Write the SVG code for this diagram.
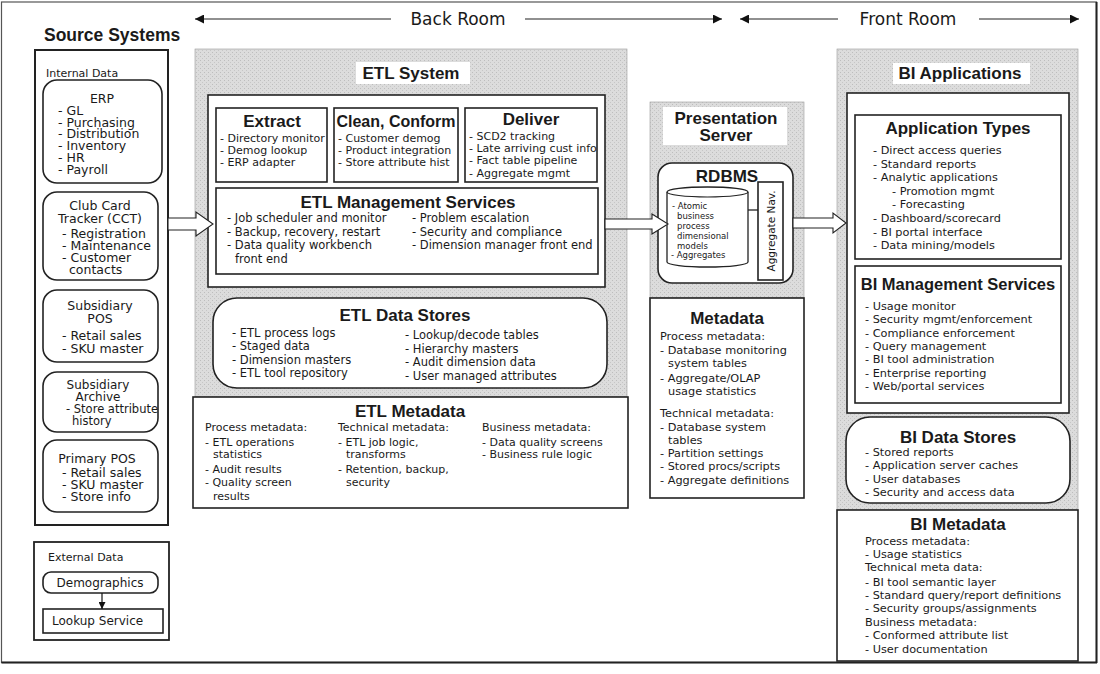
<svg xmlns="http://www.w3.org/2000/svg" width="1100" height="674" viewBox="0 0 1100 674">
<defs>
<pattern id="ht" width="4" height="4" patternUnits="userSpaceOnUse">
<rect width="4" height="4" fill="#dcdcdc"/>
<rect x="0" y="0" width="1" height="1" fill="#bdbdbd"/>
<rect x="2" y="2" width="1" height="1" fill="#c6c6c6"/>
</pattern>
<marker id="ah" viewBox="0 0 10 10" refX="10" refY="5" markerWidth="11" markerHeight="9" markerUnits="userSpaceOnUse" orient="auto-start-reverse">
<path d="M0,0 L10,5 L0,10 Z" fill="#111"/>
</marker>
<marker id="ahs" viewBox="0 0 10 10" refX="10" refY="5" markerWidth="8" markerHeight="7" markerUnits="userSpaceOnUse" orient="auto">
<path d="M0,0 L10,5 L0,10 Z" fill="#111"/>
</marker>
</defs>
<style>
text{font-family:"DejaVu Sans","Liberation Sans",sans-serif;fill:#1a1a1a}
.b{fill:#fff;stroke:#222;stroke-width:1.6}
.g{fill:url(#ht);stroke:#999;stroke-width:0.6}
.w{fill:#fff;stroke:none}
.t15{font-family:"Liberation Sans",Arial,sans-serif;font-size:17px;font-weight:bold}
.t14{font-family:"Liberation Sans",Arial,sans-serif;font-size:17px;font-weight:bold}
.t16{font-family:"Liberation Sans",Arial,sans-serif;font-size:16px;font-weight:bold}
.hd{font-size:17px}
.s13{font-size:12.5px}
.s12{font-size:12px}
.s11{font-size:11px}
.s115{font-size:11.5px}
.s113{font-size:11.3px}
.s9{font-size:8.5px}
.s10{font-size:10.5px}
.m{text-anchor:middle}
.ar{fill:#fff;stroke:#222;stroke-width:1.1}
.ln{stroke:#222;stroke-width:1.2;fill:none}
</style>
<rect x="0" y="0" width="1100" height="674" fill="#fff"/>
<rect x="1.5" y="2" width="1095" height="660.5" fill="none" stroke="#555" stroke-width="1.2"/>
<line x1="1096.5" y1="2" x2="1096.5" y2="663" stroke="#222" stroke-width="2"/>
<line x1="1.5" y1="662.5" x2="1097" y2="662.5" stroke="#222" stroke-width="2"/>

<g id="header">
<line class="ln" x1="391" y1="19" x2="195" y2="19" marker-end="url(#ah)"/>
<text class="hd m" x="458" y="25">Back Room</text>
<line class="ln" x1="525" y1="19" x2="722" y2="19" marker-end="url(#ah)"/>
<line class="ln" x1="838" y1="19" x2="740" y2="19" marker-end="url(#ah)"/>
<text class="hd m" x="908" y="25">Front Room</text>
<line class="ln" x1="979" y1="19" x2="1079" y2="19" marker-end="url(#ah)"/>
<text class="t15" x="44" y="41" style="font-size:17.5px">Source Systems</text>
</g>

<g id="source-systems">
<rect x="35" y="50" width="133" height="475" fill="#fff" stroke="#222" stroke-width="2"/>
<text class="s11" x="46" y="77">Internal Data</text>
</g>
<g id="erp">
<rect class="b" x="43" y="80" width="119" height="103" rx="14"/>
<text class="s13 m" x="102" y="103">ERP</text>
<text class="s13" x="58" y="115">- GL</text>
<text class="s13" x="58" y="127">- Purchasing</text>
<text class="s13" x="58" y="138">- Distribution</text>
<text class="s13" x="58" y="150">- Inventory</text>
<text class="s13" x="58" y="162">- HR</text>
<text class="s13" x="58" y="174">- Payroll</text>
</g>
<g id="cct">
<rect class="b" x="43" y="192" width="115" height="88" rx="14"/>
<text class="s13 m" x="100" y="210">Club Card</text>
<text class="s13 m" x="100" y="223">Tracker (CCT)</text>
<text class="s13" x="62" y="238">- Registration</text>
<text class="s13" x="62" y="250">- Maintenance</text>
<text class="s13" x="62" y="262">- Customer</text>
<text class="s13" x="69" y="274">contacts</text>
</g>
<g id="subsidiary-pos">
<rect class="b" x="43" y="290" width="115" height="72" rx="14"/>
<text class="s13 m" x="100" y="310">Subsidiary</text>
<text class="s13 m" x="100" y="323">POS</text>
<text class="s13" x="62" y="340">- Retail sales</text>
<text class="s13" x="62" y="353">- SKU master</text>
</g>
<g id="subsidiary-archive">
<rect class="b" x="43" y="372" width="115" height="60" rx="14"/>
<text class="s12 m" x="98" y="389">Subsidiary</text>
<text class="s12 m" x="98" y="401">Archive</text>
<text class="s115" x="66" y="413">- Store attribute</text>
<text class="s115" x="72" y="425">history</text>
</g>
<g id="primary-pos">
<rect class="b" x="43" y="440" width="115" height="72" rx="14"/>
<text class="s13 m" x="97" y="463">Primary POS</text>
<text class="s13" x="62" y="477">- Retail sales</text>
<text class="s13" x="62" y="489">- SKU master</text>
<text class="s13" x="62" y="501">- Store info</text>
</g>
<g id="external-data">
<rect x="34" y="542" width="135" height="98" fill="#fff" stroke="#222" stroke-width="1.8"/>
<text class="s11" x="48" y="561">External Data</text>
</g>
<g id="demographics">
<rect class="b" x="43" y="572" width="115" height="21" rx="8"/>
<text class="s12 m" x="100" y="587">Demographics</text>
</g>
<g id="lookup-service">
<rect class="b" x="43" y="609" width="120" height="24"/>
<text class="s12" x="52" y="625">Lookup Service</text>
</g>

<g id="etl-system">
<rect class="g" x="195" y="49" width="432" height="348"/>
<rect class="w" x="356" y="62" width="114" height="22"/>
<text class="t15 m" x="411" y="79">ETL System</text>
<rect class="b" x="208" y="95" width="397" height="192"/>
</g>
<g id="extract">
<rect class="b" x="216" y="108" width="111" height="74"/>
<text class="t14 m" x="272" y="127">Extract</text>
<text class="s11" x="220" y="142">- Directory monitor</text>
<text class="s11" x="220" y="154">- Demog lookup</text>
<text class="s11" x="220" y="166">- ERP adapter</text>
</g>
<g id="clean-conform">
<rect class="b" x="334" y="108" width="124" height="74"/>
<text class="t16 m" x="396" y="127">Clean, Conform</text>
<text class="s11" x="338" y="142">- Customer demog</text>
<text class="s11" x="338" y="154">- Product integration</text>
<text class="s11" x="338" y="166">- Store attribute hist</text>
</g>
<g id="deliver">
<rect class="b" x="465" y="108" width="132" height="74"/>
<text class="t14 m" x="531" y="125">Deliver</text>
<text class="s11" x="469" y="140">- SCD2 tracking</text>
<text class="s11" x="469" y="152">- Late arriving cust info</text>
<text class="s11" x="469" y="164">- Fact table pipeline</text>
<text class="s11" x="469" y="177">- Aggregate mgmt</text>
</g>
<g id="etl-management-services">
<rect class="b" x="216" y="188" width="382" height="86"/>
<text class="t14 m" x="408" y="208">ETL Management Services</text>
<text class="s115" x="227" y="222">- Job scheduler and monitor</text>
<text class="s115" x="227" y="236">- Backup, recovery, restart</text>
<text class="s115" x="227" y="249">- Data quality workbench</text>
<text class="s115" x="235" y="263">front end</text>
<text class="s115" x="412" y="222">- Problem escalation</text>
<text class="s115" x="412" y="236">- Security and compliance</text>
<text class="s115" x="412" y="249">- Dimension manager front end</text>
</g>
<g id="etl-data-stores">
<rect class="b" x="213" y="298" width="394" height="90" rx="24"/>
<text class="t14 m" x="405" y="321">ETL Data Stores</text>
<text class="s115" x="232" y="337">- ETL process logs</text>
<text class="s115" x="232" y="350">- Staged data</text>
<text class="s115" x="232" y="364">- Dimension masters</text>
<text class="s115" x="232" y="377">- ETL tool repository</text>
<text class="s115" x="405" y="339">- Lookup/decode tables</text>
<text class="s115" x="405" y="353">- Hierarchy masters</text>
<text class="s115" x="405" y="366">- Audit dimension data</text>
<text class="s115" x="405" y="380">- User managed attributes</text>
</g>
<g id="etl-metadata">
<rect class="b" x="193" y="397" width="435" height="111"/>
<text class="t14 m" x="410" y="417">ETL Metadata</text>
<text class="s11" x="205" y="431">Process metadata:</text>
<text class="s11" x="205" y="446">- ETL operations</text>
<text class="s11" x="213" y="458">statistics</text>
<text class="s11" x="205" y="473">- Audit results</text>
<text class="s11" x="205" y="486">- Quality screen</text>
<text class="s11" x="213" y="500">results</text>
<text class="s11" x="338" y="431">Technical metadata:</text>
<text class="s11" x="338" y="446">- ETL job logic,</text>
<text class="s11" x="346" y="458">transforms</text>
<text class="s11" x="338" y="473">- Retention, backup,</text>
<text class="s11" x="346" y="486">security</text>
<text class="s11" x="482" y="431">Business metadata:</text>
<text class="s11" x="482" y="446">- Data quality screens</text>
<text class="s11" x="482" y="458">- Business rule logic</text>
</g>

<g id="presentation-server">
<rect class="g" x="650" y="102" width="154" height="196"/>
<rect class="w" x="663" y="107" width="124" height="38"/>
<text class="t15 m" x="726" y="124">Presentation</text>
<text class="t15 m" x="726" y="141">Server</text>
</g>
<g id="rdbms">
<rect class="b" x="658" y="163" width="135" height="120" rx="14"/>
<text class="t15 m" x="727" y="182">RDBMS</text>
<path d="M667,192 A40.5,5 0 0 1 748,192 L748,262 A40.5,5 0 0 1 667,262 Z" fill="#fff" stroke="#222" stroke-width="1.3"/>
<path d="M667,192 A40.5,5 0 0 0 748,192" fill="none" stroke="#222" stroke-width="1.1"/>
<text class="s9" x="672" y="209">- Atomic</text>
<text class="s9" x="677" y="219">business</text>
<text class="s9" x="677" y="229">process</text>
<text class="s9" x="677" y="239">dimensional</text>
<text class="s9" x="677" y="249">models</text>
<text class="s9" x="671" y="258">- Aggregates</text>
<line x1="748" y1="210" x2="758" y2="210" stroke="#222" stroke-width="1.3"/>
</g>
<g id="aggregate-nav">
<rect class="b" x="758" y="182" width="25" height="98"/>
<text class="s10 m" transform="translate(774.5,231) rotate(-90)" x="0" y="0">Aggregate Nav.</text>
</g>
<g id="metadata">
<rect class="b" x="650" y="298" width="154" height="200"/>
<text class="t14 m" x="727" y="324">Metadata</text>
<text class="s113" x="660" y="340">Process metadata:</text>
<text class="s113" x="660" y="354">- Database monitoring</text>
<text class="s113" x="668" y="367">system tables</text>
<text class="s113" x="660" y="382">- Aggregate/OLAP</text>
<text class="s113" x="668" y="395">usage statistics</text>
<text class="s113" x="660" y="417">Technical metadata:</text>
<text class="s113" x="660" y="431">- Database system</text>
<text class="s113" x="668" y="444">tables</text>
<text class="s113" x="660" y="457">- Partition settings</text>
<text class="s113" x="660" y="470">- Stored procs/scripts</text>
<text class="s113" x="660" y="484">- Aggregate definitions</text>
</g>

<g id="bi-applications">
<rect class="g" x="837" y="49" width="241" height="461"/>
<rect class="w" x="893" y="63" width="137" height="21"/>
<text class="t15 m" x="960" y="79">BI Applications</text>
<rect class="b" x="847" y="93" width="222" height="320"/>
</g>
<g id="application-types">
<rect class="b" x="855" y="115" width="206" height="144"/>
<text class="t14 m" x="958" y="134">Application Types</text>
<text class="s113" x="873" y="154">- Direct access queries</text>
<text class="s113" x="873" y="168">- Standard reports</text>
<text class="s113" x="873" y="181">- Analytic applications</text>
<text class="s113" x="892" y="195">- Promotion mgmt</text>
<text class="s113" x="892" y="208">- Forecasting</text>
<text class="s113" x="873" y="222">- Dashboard/scorecard</text>
<text class="s113" x="873" y="236">- BI portal interface</text>
<text class="s113" x="873" y="249">- Data mining/models</text>
</g>
<g id="bi-management-services">
<rect class="b" x="855" y="266" width="206" height="137"/>
<text class="t14 m" x="958" y="290" style="font-size:16.5px">BI Management Services</text>
<text class="s113" x="865" y="310">- Usage monitor</text>
<text class="s113" x="865" y="323">- Security mgmt/enforcement</text>
<text class="s113" x="865" y="337">- Compliance enforcement</text>
<text class="s113" x="865" y="350">- Query management</text>
<text class="s113" x="865" y="363">- BI tool administration</text>
<text class="s113" x="865" y="377">- Enterprise reporting</text>
<text class="s113" x="865" y="390">- Web/portal services</text>
</g>
<g id="bi-data-stores">
<rect class="b" x="846" y="417" width="224" height="86" rx="24"/>
<text class="t14 m" x="958" y="443">BI Data Stores</text>
<text class="s113" x="865" y="456">- Stored reports</text>
<text class="s113" x="865" y="469">- Application server caches</text>
<text class="s113" x="865" y="483">- User databases</text>
<text class="s113" x="865" y="496">- Security and access data</text>
</g>
<g id="bi-metadata">
<rect class="b" x="837" y="510" width="241" height="151"/>
<text class="t14 m" x="958" y="530">BI Metadata</text>
<text class="s113" x="865" y="545">Process metadata:</text>
<text class="s113" x="865" y="558">- Usage statistics</text>
<text class="s113" x="865" y="571">Technical meta data:</text>
<text class="s113" x="865" y="586">- BI tool semantic layer</text>
<text class="s113" x="865" y="599">- Standard query/report definitions</text>
<text class="s113" x="865" y="612">- Security groups/assignments</text>
<text class="s113" x="865" y="626">Business metadata:</text>
<text class="s113" x="865" y="639">- Conformed attribute list</text>
<text class="s113" x="865" y="653">- User documentation</text>
</g>

<g id="connectors">
<polygon class="ar" points="168,218 196,218 196,212 213,224 196,236 196,230 168,230"/>
<polygon class="ar" points="605,219 652,219 652,214 668,224 652,234 652,229 605,229"/>
<polygon class="ar" points="793,218 833,218 833,213 846,223 833,233 833,228 793,228"/>
<line x1="102" y1="593" x2="102" y2="609" stroke="#111" stroke-width="1.2" marker-end="url(#ahs)"/>
</g>
</svg>
